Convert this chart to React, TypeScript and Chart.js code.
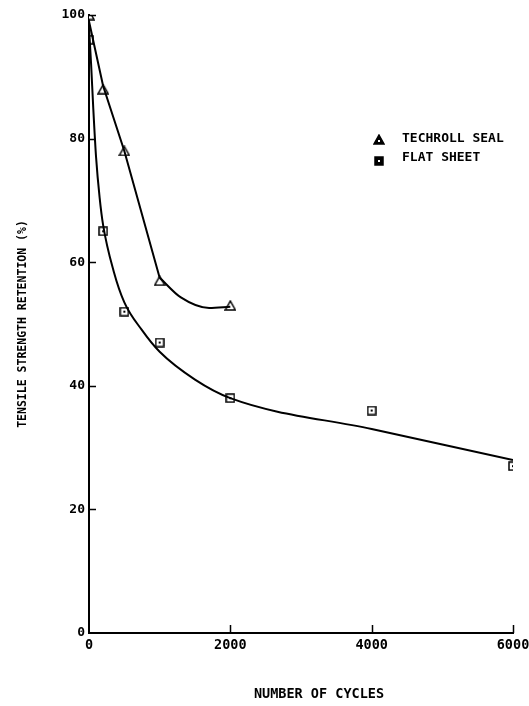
import React, { useEffect, useRef } from "react";
import { Chart, registerables } from "chart.js";

Chart.register(...registerables);

// Measured markers
const techrollCycles = [0, 200, 500, 1000, 2000];
const techrollRetention = [100, 88, 78, 57, 53];
const flatCycles = [0, 200, 500, 1000, 2000, 4000, 6000];
const flatRetention = [96, 65, 52, 47, 38, 36, 27];

// Hand-drawn fit curves
const techrollFitCycles = [0, 200, 500, 1000];
const techrollFitRetention = [99, 88.5, 78, 57.5];
const techrollTailCycles = [1000, 1300, 1700, 2000];
const techrollTailRetention = [57.5, 54.3, 52.6, 52.8];
const flatFitCycles = [0, 30, 60, 100, 150, 200, 350, 500, 750, 1000, 1500, 2000, 4000, 6000];
const flatFitRetention = [98, 92, 85, 77, 70.5, 66, 58.5, 53.5, 49, 45.5, 41, 38, 33, 28];

const xTicks = [0, 2000, 4000, 6000];
const yTicks = [0, 20, 40, 60, 80, 100];

const FONT = "'DejaVu Sans Mono', monospace";

function pts(xs: number[], ys: number[]) {
  return xs.map((x, i) => ({ x, y: ys[i] }));
}

function makeTriangle(filled: boolean) {
  const c = document.createElement("canvas");
  c.width = 12;
  c.height = 11;
  const g = c.getContext("2d")!;
  g.beginPath();
  g.moveTo(6, 1);
  g.lineTo(11, 10);
  g.lineTo(1, 10);
  g.closePath();
  g.fillStyle = filled ? "#000" : "#fff";
  g.fill();
  g.lineWidth = 1.5;
  g.strokeStyle = "#000";
  g.stroke();
  if (filled) {
    g.fillStyle = "#fff";
    g.fillRect(5, 6, 2, 2);
  }
  return c;
}

function makeSquare(filled: boolean) {
  const c = document.createElement("canvas");
  c.width = 10;
  c.height = 10;
  const g = c.getContext("2d")!;
  g.fillStyle = filled ? "#000" : "#fff";
  g.fillRect(1, 1, 8, 8);
  g.lineWidth = 1.5;
  g.strokeStyle = "#000";
  g.strokeRect(1, 1, 8, 8);
  g.fillStyle = filled ? "#fff" : "#000";
  g.fillRect(4, 4, 2, 2);
  return c;
}

export default function App() {
  const ref = useRef<HTMLCanvasElement | null>(null);

  useEffect(() => {
    if (!ref.current) return;
    const tri = makeTriangle(false);
    const sq = makeSquare(false);
    const triL = makeTriangle(true);
    const sqL = makeSquare(true);

    const decor = {
      id: "decor",
      afterDraw(chart: any) {
        const { ctx, chartArea, scales } = chart;
        const xs = scales.x;
        const ys = scales.y;
        ctx.save();
        ctx.strokeStyle = "#000";
        ctx.lineWidth = 1.5;
        ctx.beginPath();
        yTicks.slice(1).forEach((v) => {
          const py = Math.round(ys.getPixelForValue(v)) + 0.5;
          ctx.moveTo(chartArea.left, py);
          ctx.lineTo(chartArea.left + 7, py);
        });
        xTicks.slice(1).forEach((v) => {
          const px = Math.round(xs.getPixelForValue(v)) + 0.5;
          ctx.moveTo(px, chartArea.bottom);
          ctx.lineTo(px, chartArea.bottom - 8);
        });
        ctx.stroke();

        // legend
        ctx.drawImage(triL, 373, 134);
        ctx.drawImage(sqL, 374, 156);
        ctx.fillStyle = "#000";
        ctx.font = `bold 13px ${FONT}`;
        ctx.textAlign = "left";
        ctx.textBaseline = "middle";
        ctx.fillText("TECHROLL SEAL", 402, 139);
        ctx.fillText("FLAT SHEET", 402, 158);

        // axis titles
        ctx.textAlign = "center";
        ctx.font = `bold 13.5px ${FONT}`;
        ctx.fillText("NUMBER OF CYCLES", 319, 694);
        ctx.translate(23, 324);
        ctx.rotate(-Math.PI / 2);
        ctx.font = `bold 11.5px ${FONT}`;
        ctx.fillText("TENSILE STRENGTH RETENTION (%)", 0, 0);
        ctx.restore();
      },
    };

    const line = (label: string, data: any[], curved: boolean) => ({
      label,
      data,
      showLine: true,
      borderColor: "#000",
      borderWidth: 2,
      pointRadius: 0,
      ...(curved ? { cubicInterpolationMode: "monotone" } : { tension: 0 }),
    });

    const chart = new Chart(ref.current, {
      type: "scatter",
      data: {
        datasets: [
          line("techroll fit", pts(techrollFitCycles, techrollFitRetention), false),
          line("techroll tail", pts(techrollTailCycles, techrollTailRetention), true),
          line("flat fit", pts(flatFitCycles, flatFitRetention), true),
          {
            label: "TECHROLL SEAL",
            data: pts(techrollCycles, techrollRetention),
            showLine: false,
            pointStyle: tri as any,
            pointRadius: 5,
          },
          {
            label: "FLAT SHEET",
            data: pts(flatCycles, flatRetention),
            showLine: false,
            pointStyle: sq as any,
            pointRadius: 5,
          },
        ],
      },
      options: {
        animation: false,
        responsive: false,
        layout: { padding: { top: 15, right: 16, left: 0, bottom: 0 } },
        plugins: {
          legend: { display: false },
          tooltip: { enabled: false },
        },
        scales: {
          x: {
            type: "linear",
            min: 0,
            max: 6000,
            afterFit: (s: any) => {
              s.height = 73;
              s.paddingLeft = 0;
              s.paddingRight = 0;
            },
            afterBuildTicks: (s: any) => {
              s.ticks = xTicks.map((v) => ({ value: v }));
            },
            grid: { display: true, drawOnChartArea: false, drawTicks: false },
            border: { display: true, color: "#000", width: 2 },
            ticks: {
              color: "#000",
              padding: 4,
              maxRotation: 0,
              font: { family: FONT, size: 13.5, weight: "bold" },
              callback: (v: any) => String(v),
            },
          },
          y: {
            type: "linear",
            min: 0,
            max: 100,
            afterFit: (s: any) => {
              s.width = 89;
              s.paddingTop = 0;
              s.paddingBottom = 0;
            },
            afterBuildTicks: (s: any) => {
              s.ticks = yTicks.map((v) => ({ value: v }));
            },
            grid: { display: true, drawOnChartArea: false, drawTicks: false },
            border: { display: true, color: "#000", width: 2 },
            ticks: {
              color: "#000",
              padding: 4,
              font: { family: FONT, size: 13, weight: "bold" },
              callback: (v: any) => String(v),
            },
          },
        },
      },
      plugins: [decor],
    } as any);
    return () => chart.destroy();
  }, []);

  return (
    <div style={{ position: "absolute", left: 0, top: 0, width: 529, height: 706, background: "#fff" }}>
      <canvas ref={ref} width={529} height={706} style={{ display: "block" }} />
    </div>
  );
}
